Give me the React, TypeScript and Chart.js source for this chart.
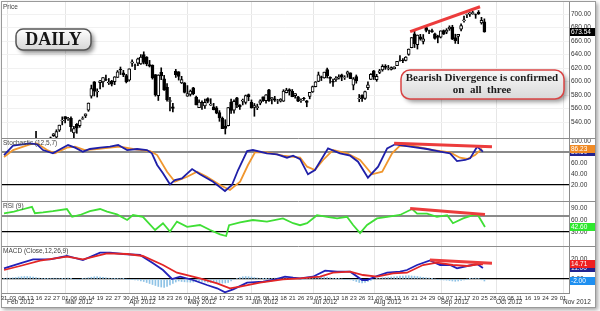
import React, { useEffect, useRef } from "react";
import { Chart, registerables } from "chart.js";

Chart.register(...registerables);

// ---------- X axis (trading-day index) labels ----------
const dayLabels = ["31","03","08","13","16","22","27","01","06","09","14","19","22","27","30","04","10","13","18","23","26","01","04","09","14","17","22","25","31","05","08","13","18","21","26","29","05","10","13","18","23","26","31","03","08","13","16","21","24","29","04","07","12","17","20","25","28","03","08","11","16","19","24","29","01"];
const monthNames = ["Feb 2012","Mar 2012","Apr 2012","May 2012","Jun 2012","Jul 2012","Aug 2012","Sep 2012","Oct 2012","Nov 2012"];
const monthStarts = [1, 21, 43, 63, 85, 106, 127, 150, 169, 192];

// ---------- Daily OHLC (index 0 = 31 Jan 2012) ----------
const opens = [
455.6,458.4,455.9,457.3,458.4,465.3,470.5,480.0,491.0,499.5,
504.7,514.3,491.5,503.1,506.9,513.1,515.1,519.7,517.5,527.9,
541.6,548.2,544.2,545.4,523.7,536.8,534.7,544.2,549.0,557.5,
578.1,599.6,584.7,598.4,599.5,602.7,597.8,600.5,599.8,606.2,
618.4,612.8,608.8,601.8,627.3,624.4,627.0,626.1,639.9,636.2,
625.0,624.1,610.1,578.9,613.7,604.0,591.4,570.6,562.6,615.1,
614.3,597.8,597.9,578.4,580.9,590.5,577.1,561.4,569.2,563.7,
574.6,565.0,562.6,561.0,554.1,545.3,534.0,534.5,569.6,557.5,
575.9,564.6,570.9,569.2,580.7,569.2,561.5,561.3,567.8,577.3,
571.6,587.7,574.5,574.5,571.2,571.0,571.0,583.4,588.2,585.4,
579.0,577.3,571.7,575.0,571.2,578.0,584.7,592.3,600.0,607.1,
605.3,617.7,606.6,600.2,602.9,605.1,610.0,606.0,611.0,612.7,
594.4,607.4,574.5,579.8,575.0,590.9,603.2,615.9,602.8,613.6,
617.3,622.8,619.4,617.9,618.7,623.4,631.9,631.3,631.2,640.0,
650.0,670.8,654.4,666.1,659.4,680.0,675.0,675.3,670.6,667.3,
665.8,675.6,673.2,678.1,680.5,665.1,666.9,677.4,690.0,699.4,
699.9,700.3,699.2,702.4,686.9,688.3];
const highs = [
458.2,459.0,457.2,460.0,465.0,469.8,476.8,496.8,497.6,503.8,
509.6,526.3,504.9,507.8,515.0,515.5,517.8,522.9,528.5,535.4,
547.6,548.2,546.8,547.5,533.7,537.8,543.0,547.7,552.0,568.2,
594.7,600.0,589.2,601.8,606.0,609.7,604.5,601.8,607.2,616.3,
621.5,616.6,610.6,618.8,632.2,625.9,634.7,639.8,644.0,636.9,
631.3,624.7,610.3,610.0,620.3,609.1,596.8,576.7,567.7,618.0,
614.7,607.7,598.4,594.0,587.4,591.4,578.4,572.8,571.5,573.9,
575.9,574.5,567.6,563.0,556.9,547.5,543.4,561.5,573.9,572.8,
576.5,565.9,574.0,580.0,581.5,572.7,567.5,566.5,573.0,577.3,
580.6,588.5,576.6,578.0,573.5,574.6,587.9,590.0,589.3,588.2,
582.2,578.0,574.5,576.7,571.9,584.0,593.3,599.9,614.0,608.0,
613.9,619.9,607.1,603.5,607.2,610.0,611.0,608.6,615.4,612.9,
605.9,609.7,580.8,580.4,585.8,599.4,611.7,616.4,610.7,618.0,
624.9,625.0,623.9,621.7,621.8,630.0,638.6,634.0,636.8,648.2,
665.2,674.9,669.0,669.9,669.6,680.9,676.1,677.7,671.6,668.6,
675.1,676.4,678.3,682.5,683.3,670.1,669.9,685.5,697.0,699.8,
702.3,704.0,700.1,705.1,695.1,692.8];
const lows = [
453.1,455.6,453.9,455.6,458.2,464.6,469.7,480.6,488.6,497.1,
502.0,496.9,486.6,500.3,504.7,509.1,507.4,518.6,516.3,525.9,
535.7,538.8,542.5,526.0,516.2,523.3,532.1,543.9,546.5,555.8,
575.4,578.6,577.0,589.0,592.0,601.4,595.5,593.4,595.3,606.1,
610.3,607.2,597.9,600.4,622.5,617.6,623.4,625.3,626.0,623.3,
621.5,603.5,578.3,571.9,602.7,586.8,570.9,556.6,555.0,606.0,
602.1,597.0,583.0,578.0,578.4,580.3,565.2,561.2,558.7,560.1,
568.4,564.6,557.9,552.2,541.0,530.1,522.2,534.1,552.6,553.2,
561.2,558.5,565.3,566.6,571.5,560.5,548.5,558.3,565.5,570.5,
568.0,570.6,566.7,570.4,567.3,569.6,570.4,583.1,579.8,577.4,
575.4,570.0,569.0,571.9,562.6,574.3,583.8,592.0,599.7,601.4,
604.9,605.3,597.7,592.7,600.0,603.6,601.2,603.0,606.3,604.3,
587.7,597.5,570.0,570.4,573.4,587.8,603.0,603.0,600.3,611.6,
615.3,618.0,617.1,617.0,618.7,623.3,630.2,627.8,630.5,638.8,
649.9,650.3,648.1,661.2,655.6,673.5,670.7,672.6,662.9,657.3,
664.5,669.6,670.8,675.8,662.1,656.5,656.0,674.8,687.9,694.6,
696.4,699.6,693.6,699.4,685.0,673.0];
const closes = [
456.5,456.2,455.1,459.7,464.0,468.8,476.7,493.2,493.4,502.6,
509.5,497.7,502.2,502.1,514.9,513.0,516.4,522.4,525.8,535.4,
542.4,544.5,545.2,533.2,530.3,530.7,542.0,545.2,552.0,568.1,
589.6,585.6,585.6,601.1,606.0,602.5,599.3,596.1,607.0,614.5,
617.6,609.9,599.6,618.6,629.3,624.3,633.7,636.2,628.4,626.2,
622.8,605.2,580.1,609.7,608.3,587.4,573.0,571.7,560.3,610.0,
607.7,603.0,584.0,582.1,586.0,581.8,565.3,569.5,568.2,569.2,
570.5,566.7,558.2,553.2,546.1,530.1,530.4,561.3,557.0,570.6,
565.3,562.3,572.3,579.2,577.7,561.0,564.3,562.8,571.5,571.7,
580.3,571.2,576.2,572.2,571.5,574.1,585.8,587.4,585.7,577.7,
582.1,570.8,572.0,574.5,569.1,584.0,592.5,599.4,609.9,605.9,
613.9,608.2,604.4,598.9,605.0,606.9,606.9,606.3,614.3,604.3,
603.8,600.9,575.0,574.9,585.2,595.0,610.8,606.8,607.8,615.7,
622.6,620.9,619.9,620.7,621.7,630.0,631.7,630.8,636.3,648.1,
665.2,656.1,668.9,662.6,663.2,675.7,674.8,673.5,663.9,665.2,
675.0,670.2,676.3,680.4,662.7,660.6,669.8,683.0,691.3,699.8,
701.9,702.1,698.7,700.1,690.8,673.54];

// ---------- Indicators: [day index, value] ----------
const stochK = [[0,74.5],[3.1,91.5],[8.9,95.8],[11.3,94],[13.4,83.6],[16.8,77.6],[19.9,86.7],[22,92.7],[24.4,87.9],[27.1,80.6],[29.5,85.5],[33,87.9],[36.4,89.7],[39.2,92.7],[42.3,83.6],[45.7,85.5],[49.1,83.6],[50.8,77.6],[52.6,56.4],[54.6,41.2],[57,21.2],[58.7,29],[61.1,32],[64.6,49],[67.3,39.4],[71.8,26],[75.9,9],[78.3,20],[80.4,47.3],[83.5,81.8],[85.5,83.6],[90.3,77.6],[93.8,75.8],[97.2,69.7],[99.3,73.3],[101.7,67],[104.4,39.4],[106.8,47.3],[111.3,86.7],[115.4,77.6],[118.9,73.3],[121.6,62.4],[125,33.3],[128.5,53.3],[131.6,86.7],[134.3,94],[139.5,89.7],[145.3,85.5],[149.8,80.6],[153.2,77.6],[155.6,63.6],[158.4,65.5],[160.1,68.5],[162.5,89.7],[164.5,80.6]];
const stochD = [[0,71],[3.1,83.6],[8.9,94],[11.3,95.8],[14.8,83.6],[17.5,77.6],[21.6,88],[24.4,89.7],[27.8,83.6],[31.9,85.5],[36.4,87.9],[39.8,89.7],[44.3,85.5],[50.2,81.8],[52.6,74.5],[56,44.2],[58.7,26],[62.9,35],[66.3,44.2],[69.7,35],[74.2,20],[77.6,11],[81.1,26],[83.8,56.4],[86.2,79.4],[90.3,79.4],[95.8,73.3],[101.7,69.7],[104.1,53.3],[106.8,47.3],[109.6,65.5],[113,83.6],[117.8,77.6],[122.3,65.5],[126.4,39.4],[129.9,44.2],[133.3,77.6],[136,91.5],[140.5,91],[147.4,83.6],[153.2,79.4],[156.6,69.7],[159.1,67.3],[161.8,74.5],[164.2,86.23]];
const rsi = [[0,76.6],[3.4,81],[5.5,85],[9.6,93],[10.6,77],[13.4,79],[16.8,82],[21.6,87.5],[23.4,68],[26.1,72.5],[29.5,82],[33,87.5],[35.4,81],[38.8,74],[42.3,60],[44.3,72.5],[47.7,68],[51.9,35],[54.6,52],[57,31],[59.4,56],[62.9,43],[67.3,47.5],[70.8,35],[74.2,24],[76.3,20],[77.3,47],[81.1,54],[85.5,60],[90.3,56],[95.8,64],[99.3,52],[101.7,47],[104.1,52],[107.5,72],[111,68],[114.4,64],[117.8,68],[119.9,47.5],[122.3,27],[124.7,47.5],[128.1,64],[131.6,68],[136,72.5],[140.2,87.5],[141.9,76],[145.3,76],[148.7,68],[152.2,72],[154.2,52],[157.7,64],[161.1,72],[162.8,72],[165.2,42.6]];
const macd = [[0,10.7],[5.5,15.7],[10,19.7],[15.8,19.7],[21.6,23],[27.1,19],[33,26.3],[36.4,26.3],[40.9,25],[46.7,24],[51.2,15.7],[54.6,9],[57.7,0],[60.5,2.3],[64.9,-1],[69.7,-6],[73.2,-9.3],[75.9,-13.3],[78.7,-10.3],[83.5,-3.7],[89,-2.7],[92.4,-1],[96.5,2.3],[99.3,1.3],[101.7,0.7],[106.1,2.3],[110.3,8.3],[114.4,7.3],[118.9,7.3],[123,-1],[124.7,-1],[128.1,3],[131.6,6.3],[136,7.3],[138.4,9],[141.9,14],[146.3,18.5],[149.8,14],[153.2,14],[155.6,10.7],[159.1,13],[162.5,15],[164.5,11]];
const signal = [[0,9],[5.5,13],[12.4,18.3],[21.6,22.3],[27.1,19.7],[35.4,25.7],[42.3,25],[47.7,23],[54.6,14],[59.4,6.3],[67.3,0.7],[73.2,-4.3],[77.6,-9.3],[81.1,-7.7],[87.9,-3.7],[95.8,-0.3],[101.7,0.7],[108.6,2.3],[113,6.3],[118.9,7.3],[123.3,4],[128.1,2.3],[133.6,5.7],[138.4,6.3],[143.9,14],[148.7,16.3],[154.2,14],[159.1,13],[163.5,15],[164.5,14.71]];
const histVals = [
0.5,0.8,1,1.2,1.5,2,2.3,2.5,2.5,2.3,2,1.5,1,0.6,0.3,0.2,0.5,0.8,0.8,0.6,
0.3,0.5,0.8,0.4,-0.3,-0.6,-0.3,0.3,0.8,1.3,1.8,2.2,2.3,2,1.6,1.2,0.8,0.5,0.2,0.4,
0.6,0.3,-0.2,-0.5,-0.4,-0.8,-1.2,-1.8,-2.5,-3.5,-4.5,-5.5,-6.5,-7.5,-8,-8.5,-7.5,-6,-4.5,-3,
-2,-2.5,-2.8,-3,-3.2,-3,-2.5,-2.2,-2.5,-3,-3.3,-3.5,-3.5,-3.8,-4,-4.2,-4,-3.5,-2,-0.5,
0.5,1.5,2.2,2.5,2.3,2,1.5,1,0.6,0.3,0.2,0.5,0.7,0.8,1,1.2,1.5,1.6,1.3,0.8,
0.4,0.2,-0.2,-0.3,0.2,0.8,1.2,1.6,2,2.3,2.2,1.8,1.2,0.7,0.4,0.2,0,-0.3,-0.5,-0.8,
-1.5,-2.5,-3.5,-4,-3.5,-2.5,-1.5,-0.5,0.3,0.8,1.2,1.5,1.8,2,2.2,2.5,2.8,3,3.2,3.3,
3,2.8,2.5,2,1.6,1.2,0.8,0.4,0,-0.4,-0.8,-1,-1.2,-1.5,-2,-2.3,-2,-1.5,-0.8,-0.2,
0.3,0.6,0.8,0.5,-0.8,-2];

// ---------- Divergence trend lines ----------
const priceTrend = [[139.5,673.8],[163.5,710.8]];
const stochTrend = [[134,95.8],[167.6,89.7]];
const rsiTrend = [[139.5,89],[165.2,74]];
const macdTrend = [[146.3,19],[167.6,15.7]];

// ---------- Axis ticks ----------
const priceTicks = [540,560,580,600,620,640,660,680,700];
const stochTicks = [20,40,60,80,100];
const rsiTicks = [30,60,70,90];
const macdTicks = [0,20];

const panelTitles = ["Price","Stochastic (12,5,7)","RSI (9)","MACD (Close,12,26,9)"];
const noteLines = ["Bearish Divergence is confirmed","on  all  three"];
const badge = "DAILY";

const SANS = '"Liberation Sans", Arial, sans-serif';
const SERIF = '"Liberation Serif", "Times New Roman", serif';

const pts = (a: number[][]) => a.map(([x, y]) => ({ x, y }));
const last = (a: number[][]) => a[a.length - 1][1];

function rr(ctx: CanvasRenderingContext2D, x: number, y: number, w: number, h: number, r: number) {
  ctx.beginPath();
  ctx.moveTo(x + r, y);
  ctx.arcTo(x + w, y, x + w, y + h, r);
  ctx.arcTo(x + w, y + h, x, y + h, r);
  ctx.arcTo(x, y + h, x, y, r);
  ctx.arcTo(x, y, x + w, y, r);
  ctx.closePath();
}

const decor = {
  id: "decor",
  beforeDraw(chart: any) {
    const ctx = chart.ctx as CanvasRenderingContext2D;
    const ca = chart.chartArea;
    const xs = chart.scales.x;
    ctx.save();
    ctx.fillStyle = "#fff";
    ctx.fillRect(0, 0, chart.width, chart.height);
    ctx.shadowColor = "rgba(0,0,0,0.35)";
    ctx.shadowBlur = 4;
    ctx.shadowOffsetX = 2;
    ctx.shadowOffsetY = 2;
    ctx.fillRect(1, 1, 595, 307);
    ctx.shadowColor = "transparent";
    ctx.strokeStyle = "#9a9a9a";
    ctx.lineWidth = 1;
    ctx.strokeRect(1.5, 1.5, 594, 306);
    ctx.strokeStyle = "#e6e6e6";
    monthStarts.forEach((m) => {
      const px = Math.round(xs.getPixelForValue(m)) + 0.5;
      ctx.beginPath();
      ctx.moveTo(px, ca.top);
      ctx.lineTo(px, ca.bottom);
      ctx.stroke();
    });
    ctx.restore();
  },
  afterDraw(chart: any) {
    const ctx = chart.ctx as CanvasRenderingContext2D;
    const s = chart.scales;
    const xs = s.x;
    ctx.save();
    ctx.strokeStyle = "#8c8c8c";
    ctx.lineWidth = 1;
    ["yS", "yR", "yM"].forEach((id) => {
      const y = Math.round(s[id].top) + 0.5;
      ctx.beginPath();
      ctx.moveTo(1.5, y);
      ctx.lineTo(595.5, y);
      ctx.stroke();
    });
    ctx.fillStyle = "#444";
    ctx.font = `6.5px ${SANS}`;
    ctx.textAlign = "left";
    ctx.textBaseline = "top";
    ["yP", "yS", "yR", "yM"].forEach((id, k) => {
      ctx.fillText(panelTitles[k], 3, s[id].top + 2);
    });
    ctx.fillStyle = "#333";
    ctx.font = `6.5px ${SANS}`;
    ctx.textBaseline = "middle";
    monthStarts.forEach((m, k) => {
      ctx.fillText(monthNames[k], xs.getPixelForValue(m), 302);
    });
    const box = (id: string, v: number, bg: string, fg = "#fff") => {
      const y = Math.round(s[id].getPixelForValue(v));
      ctx.fillStyle = bg;
      ctx.fillRect(570, y - 4, 25, 8);
      ctx.fillStyle = fg;
      ctx.font = `6.5px ${SANS}`;
      ctx.textAlign = "left";
      ctx.textBaseline = "middle";
      ctx.fillText(v.toFixed(2), 571, y + 0.5);
    };
    box("yP", closes[closes.length - 1], "#000");
    box("yS", last(stochK), "#23238f");
    box("yS", last(stochD), "#f08a24");
    box("yR", last(rsi), "#2ee82e");
    box("yM", histVals[histVals.length - 1], "#1e8ff0");
    box("yM", last(macd), "#23238f");
    box("yM", last(signal), "#ee2020");

    ctx.save();
    ctx.shadowColor = "rgba(0,0,0,0.45)";
    ctx.shadowBlur = 4;
    ctx.shadowOffsetX = 3;
    ctx.shadowOffsetY = 3;
    let g = ctx.createLinearGradient(0, 29, 0, 50);
    g.addColorStop(0, "#ffffff");
    g.addColorStop(1, "#d6d6d6");
    ctx.fillStyle = g;
    rr(ctx, 16, 29, 75, 21, 7);
    ctx.fill();
    ctx.restore();
    ctx.strokeStyle = "#555";
    ctx.lineWidth = 1.5;
    rr(ctx, 16, 29, 75, 21, 7);
    ctx.stroke();
    ctx.fillStyle = "#151515";
    ctx.font = `bold 18px ${SERIF}`;
    ctx.textAlign = "center";
    ctx.textBaseline = "middle";
    ctx.fillText(badge, 53.5, 40.5);

    ctx.save();
    ctx.shadowColor = "rgba(0,0,0,0.4)";
    ctx.shadowBlur = 4;
    ctx.shadowOffsetX = 3;
    ctx.shadowOffsetY = 3;
    g = ctx.createLinearGradient(0, 70, 0, 99);
    g.addColorStop(0, "#f8f8f8");
    g.addColorStop(1, "#d9d9d9");
    ctx.fillStyle = g;
    rr(ctx, 401, 70, 163, 29, 9);
    ctx.fill();
    ctx.restore();
    ctx.strokeStyle = "#d94444";
    ctx.lineWidth = 1.5;
    rr(ctx, 401, 70, 163, 29, 9);
    ctx.stroke();
    ctx.fillStyle = "#1a1a1a";
    ctx.font = `bold 11px ${SERIF}`;
    ctx.fillText(noteLines[0], 482, 78);
    ctx.fillText(noteLines[1], 482, 90);
    ctx.restore();
  },
};

const lineDs = (data: number[][], yAxisID: string, color: string, width: number, order: number) => ({
  type: "line" as const,
  data: pts(data),
  yAxisID,
  borderColor: color,
  backgroundColor: color,
  borderWidth: width,
  pointRadius: 0,
  tension: 0,
  fill: false,
  order,
});

const yAxis = (min: number, max: number, weight: number, ticks: number[], gridColor: (v: number) => string, gridWidth: (v: number) => number, label: (v: number) => string) => ({
  type: "linear" as const,
  position: "right" as const,
  stack: "panels",
  stackWeight: weight,
  min,
  max,
  offset: false,
  border: { display: true, color: "#8c8c8c" },
  grid: {
    drawTicks: false,
    color: (c: any) => gridColor(c.tick ? c.tick.value : NaN),
    lineWidth: (c: any) => gridWidth(c.tick ? c.tick.value : NaN),
  },
  afterBuildTicks: (sc: any) => {
    sc.ticks = ticks.map((v) => ({ value: v }));
  },
  afterFit: (sc: any) => {
    sc.width = 23;
    sc.paddingTop = 0;
    sc.paddingBottom = 0;
  },
  ticks: {
    autoSkip: false,
    padding: 2,
    color: "#333",
    font: { size: 6.5, family: SANS },
    callback: (v: any) => label(Number(v)),
  },
});

export default function App() {
  const ref = useRef<HTMLCanvasElement>(null);
  useEffect(() => {
    const canvas = ref.current!;
    const idx = closes.map((_, i) => i);
    const chart = new Chart(canvas, {
      type: "bar",
      data: {
        datasets: [
          lineDs(priceTrend, "yP", "#ec3c3c", 3, 0),
          lineDs(stochTrend, "yS", "#ec3c3c", 3, 0),
          lineDs(rsiTrend, "yR", "#ec3c3c", 3, 0),
          lineDs(macdTrend, "yM", "#ec3c3c", 3, 0),
          lineDs(stochK, "yS", "#1f1fa8", 1.8, 1),
          lineDs(stochD, "yS", "#f0962e", 1.8, 2),
          lineDs(rsi, "yR", "#3fdf35", 1.8, 1),
          lineDs(signal, "yM", "#e32626", 1.8, 1),
          lineDs(macd, "yM", "#2222b8", 1.8, 2),
          {
            type: "bar" as const,
            data: idx.map((i) => ({ x: i, y: histVals[i] })),
            yAxisID: "yM",
            backgroundColor: "#8fc3e6",
            barThickness: 1,
            grouped: false,
            order: 3,
          } as any,
          {
            type: "bar" as const,
            data: idx.map((i) => ({ x: i, y: [opens[i], closes[i]] })),
            yAxisID: "yP",
            backgroundColor: idx.map((i) => (closes[i] >= opens[i] ? "#ffffff" : "#000000")),
            borderColor: "#000",
            borderWidth: 1,
            borderSkipped: false,
            barThickness: 3,
            grouped: false,
            order: 4,
          } as any,
          {
            type: "bar" as const,
            data: idx.map((i) => ({ x: i, y: [lows[i], highs[i]] })),
            yAxisID: "yP",
            backgroundColor: "#000",
            barThickness: 1,
            grouped: false,
            order: 5,
          } as any,
        ],
      },
      options: {
        animation: false,
        responsive: false,
        devicePixelRatio: 1,
        events: [],
        layout: { autoPadding: false, padding: { left: 2, top: 2, right: 8, bottom: 3 } } as any,
        plugins: { legend: { display: false }, tooltip: { enabled: false } },
        scales: {
          x: {
            type: "linear",
            min: -0.69,
            max: 194.06,
            offset: false,
            grid: { display: false, drawTicks: false, offset: false },
            border: { display: true, color: "#8c8c8c" },
            afterBuildTicks: (sc: any) => {
              sc.ticks = dayLabels.map((_, k) => ({ value: k * 3 }));
            },
            afterFit: (sc: any) => {
              sc.height = 15;
              sc.paddingLeft = 0;
              sc.paddingRight = 0;
            },
            ticks: {
              autoSkip: false,
              maxRotation: 0,
              minRotation: 0,
              padding: 2,
              color: "#333",
              font: { size: 6, family: SANS },
              callback: (v: any) => dayLabels[Math.round(Number(v) / 3)] ?? "",
            },
          } as any,
          yP: yAxis(516.3, 717.8, 136, priceTicks, () => "#f1f1f1", () => 1, (v) => v.toFixed(2)) as any,
          yS: yAxis(-9.1, 105.5, 63, stochTicks,
            (v) => (v === 80 ? "#8a8a8a" : v === 20 ? "#000" : "rgba(0,0,0,0)"),
            (v) => (v === 80 ? 2 : 1.2),
            (v) => v.toFixed(2)) as any,
          yR: yAxis(-5, 107.5, 45, rsiTicks,
            (v) => (v === 70 ? "#8a8a8a" : v === 30 ? "#000" : "rgba(0,0,0,0)"),
            (v) => (v === 70 ? 2 : 1.2),
            (v) => (v === 70 ? "" : v.toFixed(2))) as any,
          yM: yAxis(-14, 33, 47, macdTicks,
            (v) => (v === 0 ? "#000" : "rgba(0,0,0,0)"),
            () => 1.2,
            (v) => v.toFixed(2)) as any,
        },
      },
      plugins: [decor],
    });
    return () => chart.destroy();
  }, []);
  return (
    <div style={{ position: "absolute", left: 0, top: 0, width: 600, height: 311 }}>
      <canvas ref={ref} width={600} height={311} style={{ display: "block" }} />
    </div>
  );
}
